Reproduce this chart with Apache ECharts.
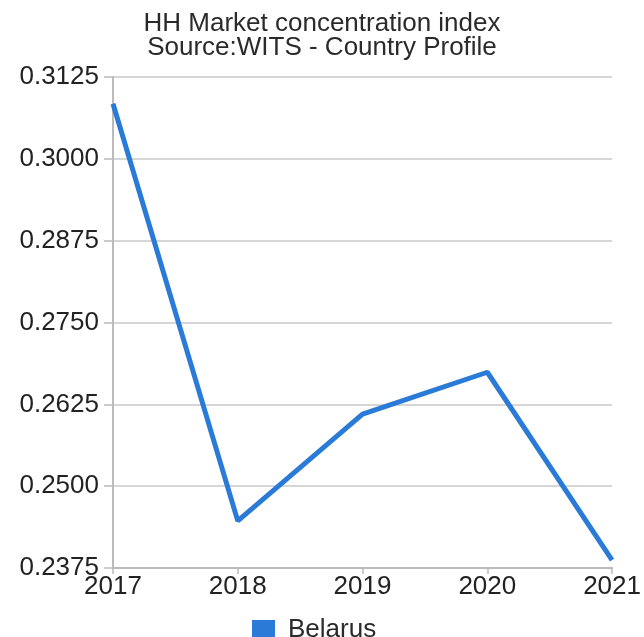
<!DOCTYPE html>
<html>
<head>
<meta charset="utf-8">
<script src="https://cdn.jsdelivr.net/npm/echarts@6/dist/echarts.min.js"></script>
<style>
  html, body { margin: 0; padding: 0; background: #fff; }
  #chart { width: 644px; height: 637px; }
</style>
</head>
<body>
<div id="chart"></div>
<script>
  const years = ['2017', '2018', '2019', '2020', '2021']
  const belarus = [0.3084, 0.2447, 0.2610, 0.2674, 0.2387]
  const yTicks = { min: 0.2375, max: 0.3125, interval: 0.0125 }

  const chart = echarts.init(document.getElementById('chart'))
  const font = 'Liberation Sans, Arial, sans-serif'

  chart.setOption({
    animation: false,
    title: {
      text: 'HH Market concentration index\nSource:WITS - Country Profile',
      left: 'center',
      top: 7,
      textStyle: {
        fontFamily: font,
        fontSize: 26,
        fontWeight: 'normal',
        color: '#2a2a2a',
        lineHeight: 24,
      },
    },
    legend: {
      bottom: -11,
      left: 247,
      icon: 'rect',
      itemWidth: 23,
      itemHeight: 20,
      textStyle: { fontFamily: font, fontSize: 26, color: '#2a2a2a', padding: [0, 0, 0, 8] },
      data: ['Belarus'],
    },
    grid: {
      left: 113,
      right: 29,
      top: 77,
      bottom: 69,
    },
    xAxis: {
      type: 'category',
      boundaryGap: false,
      data: years,
      axisLine: { lineStyle: { color: '#bbb', width: 2 } },
      axisTick: { show: true, length: 6, lineStyle: { color: '#bbb', width: 1.5 } },
      axisLabel: { fontFamily: font, fontSize: 26, color: '#222', margin: 6, showMaxLabel: true },
      splitLine: { show: false },
    },
    yAxis: {
      type: 'value',
      min: yTicks.min,
      max: yTicks.max,
      interval: yTicks.interval,
      axisLine: { show: true, lineStyle: { color: '#bbb', width: 2 } },
      axisTick: { show: true, length: 9, lineStyle: { color: '#bbb', width: 1.5 } },
      axisLabel: {
        fontFamily: font,
        fontSize: 26,
        color: '#222',
        margin: 14,
        formatter: (v) => v.toFixed(4),
      },
      splitLine: { lineStyle: { color: '#c8c8c8', width: 1.5 } },
    },
    series: [
      {
        name: 'Belarus',
        type: 'line',
        data: belarus,
        symbol: 'none',
        color: '#2a7ad8',
        lineStyle: { width: 5, color: '#2a7ad8' },
      },
    ],
  })
</script>
</body>
</html>
